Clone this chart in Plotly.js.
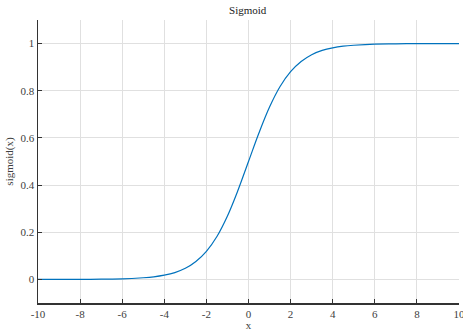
<!DOCTYPE html>
<html>
<head>
<meta charset="utf-8">
<script src="https://cdn.plot.ly/plotly-3.0.1.min.js"></script>
<style>html,body{margin:0;padding:0;background:#fff;}#chart{width:463px;height:331px;}</style>
</head>
<body>
<div id="chart"></div>
<script>
const xValues = [-10,-9,-8,-7,-6,-5,-4.5,-4,-3.5,-3,-2.5,-2,-1.5,-1,-0.5,0,0.5,1,1.5,2,2.5,3,3.5,4,4.5,5,6,7,8,9,10];
const sigmoidValues = [0.000,0.000,0.000,0.001,0.002,0.007,0.011,0.018,0.029,0.047,0.076,0.119,0.182,0.269,0.378,0.500,0.622,0.731,0.818,0.881,0.924,0.953,0.971,0.982,0.989,0.993,0.998,0.999,1.000,1.000,1.000];
const xTicks = [-10,-8,-6,-4,-2,0,2,4,6,8,10];
const yTicks = [0,0.2,0.4,0.6,0.8,1];

const font = {family: '"Liberation Serif", serif', size: 11, color: '#404040', weight: 'normal'};

Plotly.newPlot('chart', [{
  x: xValues, y: sigmoidValues, type: 'scatter', mode: 'lines',
  line: {color: '#0072BD', width: 1.2, shape: 'spline', smoothing: 1},
  hoverinfo: 'none'
}], {
  width: 463, height: 331,
  margin: {l: 38, r: 4, t: 20, b: 28},
  paper_bgcolor: '#fff', plot_bgcolor: '#fff',
  font: font,
  showlegend: false,
  title: {text: 'Sigmoid', font: {family: font.family, size: 11, color: '#1a1a1a', weight: 'normal'}, x: 0.535, xanchor: 'center', y: 0.982, yanchor: 'top'},
  xaxis: {
    range: [-10, 10], tickvals: xTicks, ticktext: xTicks.map(String),
    showgrid: true, gridcolor: '#e0e0e0', gridwidth: 1,
    zeroline: false, showline: true, linecolor: '#333333', linewidth: 1.5,
    ticks: 'inside', ticklen: 4, tickcolor: '#333333', tickwidth: 1,
    tickfont: font, ticklabeloverflow: 'allow',
    title: {text: 'x', font: font, standoff: 3}
  },
  yaxis: {
    range: [-0.1, 1.1], tickvals: yTicks, ticktext: yTicks.map(String),
    showgrid: true, gridcolor: '#e0e0e0', gridwidth: 1,
    zeroline: false, showline: true, linecolor: '#333333', linewidth: 1.5,
    ticks: 'inside', ticklen: 4, tickcolor: '#333333', tickwidth: 1,
    tickfont: font,
    title: {text: 'sigmoid(x)', font: font, standoff: 4}
  }
}, {displayModeBar: false, staticPlot: true});
</script>
</body>
</html>
